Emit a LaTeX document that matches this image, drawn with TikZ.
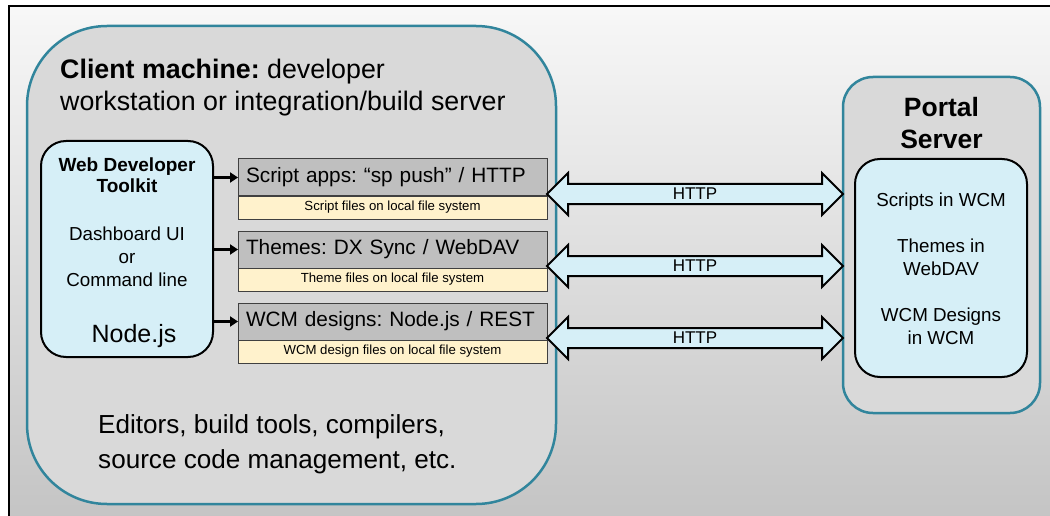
\documentclass[tikz,border=0pt]{standalone}
\usepackage{fontspec}
\setmainfont{Liberation Sans}
\frenchspacing
\usetikzlibrary{positioning,calc,arrows.meta}
\definecolor{tealline}{HTML}{31859C}
\definecolor{boxgrey}{HTML}{D9D9D9}
\definecolor{lightaqua}{HTML}{D6EFF7}
\definecolor{protogrey}{HTML}{BFBFBF}
\definecolor{noteyellow}{HTML}{FFF2CC}
\newcommand{\fs}[2]{\fontsize{#1}{#2}\selectfont}
\tikzset{
	machine/.style={draw=tealline, line width=2.5pt, fill=boxgrey, rounded corners=#1, outer sep=0pt},
	aquabox/.style={draw=black, line width=2pt, fill=lightaqua, rounded corners=#1, outer sep=0pt},
	channel/.style={draw=black!75, line width=1pt, fill=protogrey, minimum height=37pt, text width=293pt, inner xsep=8pt, inner ysep=0pt, align=left, outer sep=0pt, font=\fs{20.8}{25}},
	filenote/.style={draw=black!75, line width=1pt, fill=noteyellow, minimum width=309pt, minimum height=23pt, inner sep=0pt, outer sep=0pt, font=\fs{13.2}{15}},
	feed/.style={line width=3pt, -{Triangle[length=8pt,width=10pt]}},
	dblarrow/.style={draw=black, line width=2pt, fill=lightaqua, line join=miter},
	httplabel/.style={font=\fs{17}{20}, inner sep=0pt}
}
\begin{document}
\begin{tikzpicture}[x=1pt, y=-1pt]
	\useasboundingbox (0,0) rectangle (1050,516);
	\fill[white] (0,0) rectangle (1050,516);
	\shade[top color=black!3, bottom color=black!23] (9,6) rectangle (1050,516);
	\draw[line width=2pt] (9,516) -- (9,6) -- (1050,6);

	\node[machine=80pt, minimum width=529pt, minimum height=478pt] (client) at (291.5,265) {};
	\node[anchor=base west, align=left, inner sep=0pt, font=\fs{26.8}{32}] (clienttitle) at (60,111) {\textbf{Client machine:} developer\\workstation or integration/build server};

	\node[aquabox=25pt, minimum width=172pt, minimum height=216pt] (wdt) at (127,249) {};
	\node[anchor=base, align=center, inner sep=0pt, font=\bfseries\fs{19}{21.5}] (wdtname) at (127,193) {Web Developer\\Toolkit};
	\node[anchor=base, align=center, inner sep=0pt, font=\fs{18.8}{23}] (wdtui) at (127,286) {Dashboard UI\\or\\Command line};
	\node[anchor=base, inner sep=0pt, font=\fs{25}{30}] (wdtnode) at (134,342) {Node.js};

	\node[channel] (sa) at (392.5,177.5) {Script apps: “sp push” / HTTP};
	\node[filenote, below=0pt of sa] (sanote) {Script files on local file system};
	\node[channel, below=12pt of sanote] (th) {Themes: DX Sync / WebDAV};
	\node[filenote, below=0pt of th] (thnote) {Theme files on local file system};
	\node[channel, below=12pt of thnote] (wc) {WCM designs: Node.js / REST};
	\node[filenote, below=0pt of wc] (wcnote) {WCM design files on local file system};

	\node[anchor=base west, align=left, inner sep=0pt, font=\fs{26.1}{35}] (tools) at (98,468) {Editors, build tools, compilers,\\source code management, etc.};

	\node[machine=30pt, minimum width=197pt, minimum height=336pt] (portal) at (941.5,245) {};
	\node[anchor=base, align=center, inner sep=0pt, font=\bfseries\fs{26.5}{31.6}] (portaltitle) at (941.5,148.3) {Portal\\Server};
	\node[aquabox=25pt, minimum width=172pt, minimum height=218pt] (store) at (941,268) {};
	\node[anchor=base, inner sep=0pt, font=\fs{18.8}{22.3}] (storescripts) at (941,207) {Scripts in WCM};
	\node[anchor=base, align=center, inner sep=0pt, font=\fs{18.8}{22.3}] (storethemes) at (941,275) {Themes in\\WebDAV};
	\node[anchor=base, align=center, inner sep=0pt, font=\fs{18.8}{22.3}] (storewcm) at (941,344) {WCM Designs\\in WCM};

	\foreach \b in {sa,th,wc} {
		\draw[feed] (wdt.east |- \b.west) -- (\b.west);
		\coordinate (L) at ($(\b.south east)+(0,-2)$);
		\coordinate (R) at (L -| portal.west);
		\draw[dblarrow] (L) -- ++(21,-21) -- ++(0,11) -- ($(R)+(-21,-10)$) -- ++(0,-11) -- (R) -- ++(-21,21) -- ++(0,-11) -- ($(L)+(21,10)$) -- ++(0,11) -- cycle;
		\node[httplabel] (http-\b) at ($(L)!0.5!(R)$) {HTTP};
	}
\end{tikzpicture}
\end{document}
